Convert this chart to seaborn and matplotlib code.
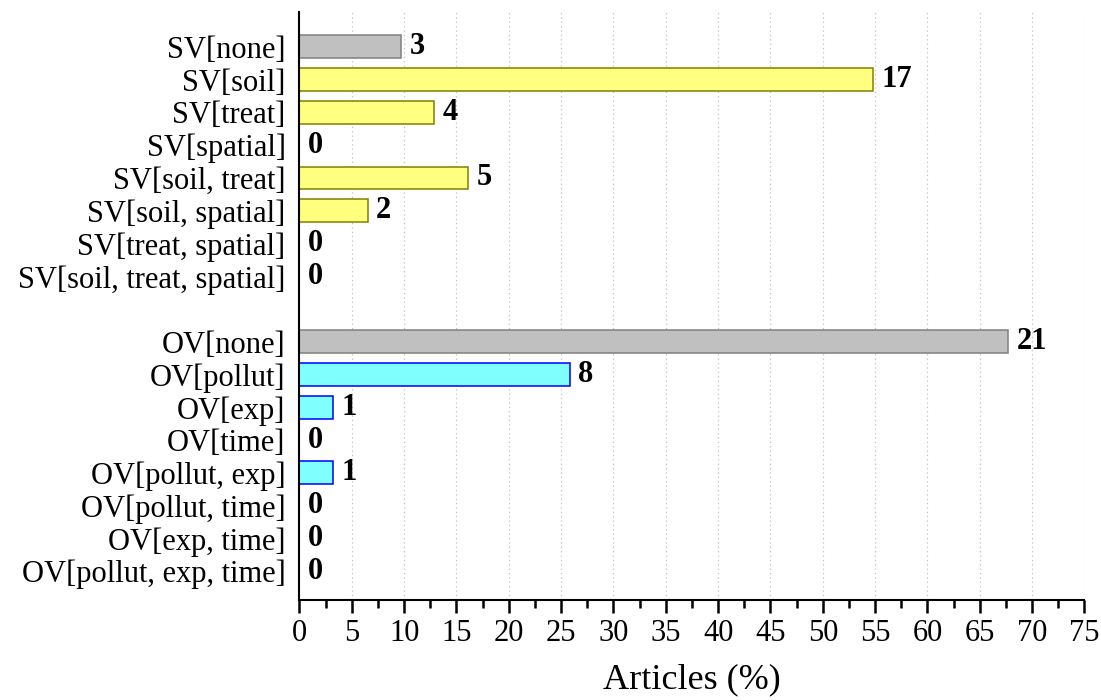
import numpy as np
import pandas as pd
import matplotlib.pyplot as plt
import seaborn as sns
from matplotlib.ticker import MultipleLocator

# data
sv_labels = ["SV[none]", "SV[soil]", "SV[treat]", "SV[spatial]", "SV[soil, treat]",
             "SV[soil, spatial]", "SV[treat, spatial]", "SV[soil, treat, spatial]"]
sv_counts = [3, 17, 4, 0, 5, 2, 0, 0]
sv_pct = [9.7, 54.8, 12.9, 0, 16.1, 6.5, 0, 0]

ov_labels = ["OV[none]", "OV[pollut]", "OV[exp]", "OV[time]", "OV[pollut, exp]",
             "OV[pollut, time]", "OV[exp, time]", "OV[pollut, exp, time]"]
ov_counts = [21, 8, 1, 0, 1, 0, 0, 0]
ov_pct = [67.7, 25.8, 3.2, 0, 3.2, 0, 0, 0]

group = ["none"] + ["sv"] * 7 + ["none"] + ["ov"] * 7

df = pd.DataFrame({
    "label": sv_labels + ov_labels,
    "pct": sv_pct + ov_pct,
    "count": sv_counts + ov_counts,
    "group": group,
})

order = sv_labels + [" "] + ov_labels
fills = {"none": "#c0c0c0", "sv": "#ffff80", "ov": "#80ffff"}
edges = {"none": "#808080", "sv": "#808000", "ov": "#0000ff"}

sns.set_style("ticks")
plt.rcParams["font.family"] = ["Liberation Serif", "DejaVu Serif"]
plt.rcParams["text.color"] = "black"
plt.rcParams["xtick.color"] = "black"
plt.rcParams["ytick.color"] = "black"
plt.rcParams["axes.labelcolor"] = "black"
plt.rcParams["axes.edgecolor"] = "black"

fig, ax = plt.subplots(figsize=(11.01, 7), dpi=100)
sns.barplot(data=df, x="pct", y="label", hue="group", order=order,
            palette=fills, saturation=1, dodge=False, width=0.7, legend=False, ax=ax)

# edge colours per group
for cont, g in zip(ax.containers, ["none", "sv", "ov"]):
    for bar in cont:
        bar.set_edgecolor(edges[g])
        bar.set_linewidth(1.1)

# count labels
pos = {lab: i for i, lab in enumerate(order)}
for _, r in df.iterrows():
    ax.text(r["pct"] + 0.8, pos[r["label"]], str(r["count"]), va="center", ha="left",
            fontsize=22, fontweight="bold")

ax.set_xlim(0, 75)
ax.set_ylim(len(order) - 1 + 0.88, -1.07)
ax.xaxis.set_major_locator(MultipleLocator(5))
ax.xaxis.set_minor_locator(MultipleLocator(2.5))
ax.tick_params(axis="x", which="major", length=9, width=1.8, labelsize=22, direction="out", pad=5)
ax.tick_params(axis="x", which="minor", length=5.5, width=1.8, direction="out")
ax.tick_params(axis="y", length=0, labelsize=22, pad=10)
ax.grid(axis="x", linestyle=(0, (1, 2.5)), color="#c0c0c0", linewidth=0.9)
ax.set_axisbelow(True)
sns.despine(ax=ax, top=True, right=True)
ax.spines["left"].set_linewidth(1.5)
ax.spines["bottom"].set_linewidth(1.5)
ax.set_ylabel("")
ax.set_xlabel("Articles (%)", fontsize=26, labelpad=11)

plt.subplots_adjust(left=0.272, right=0.985, top=0.983, bottom=0.143)
plt.savefig("out.png", dpi=100)
